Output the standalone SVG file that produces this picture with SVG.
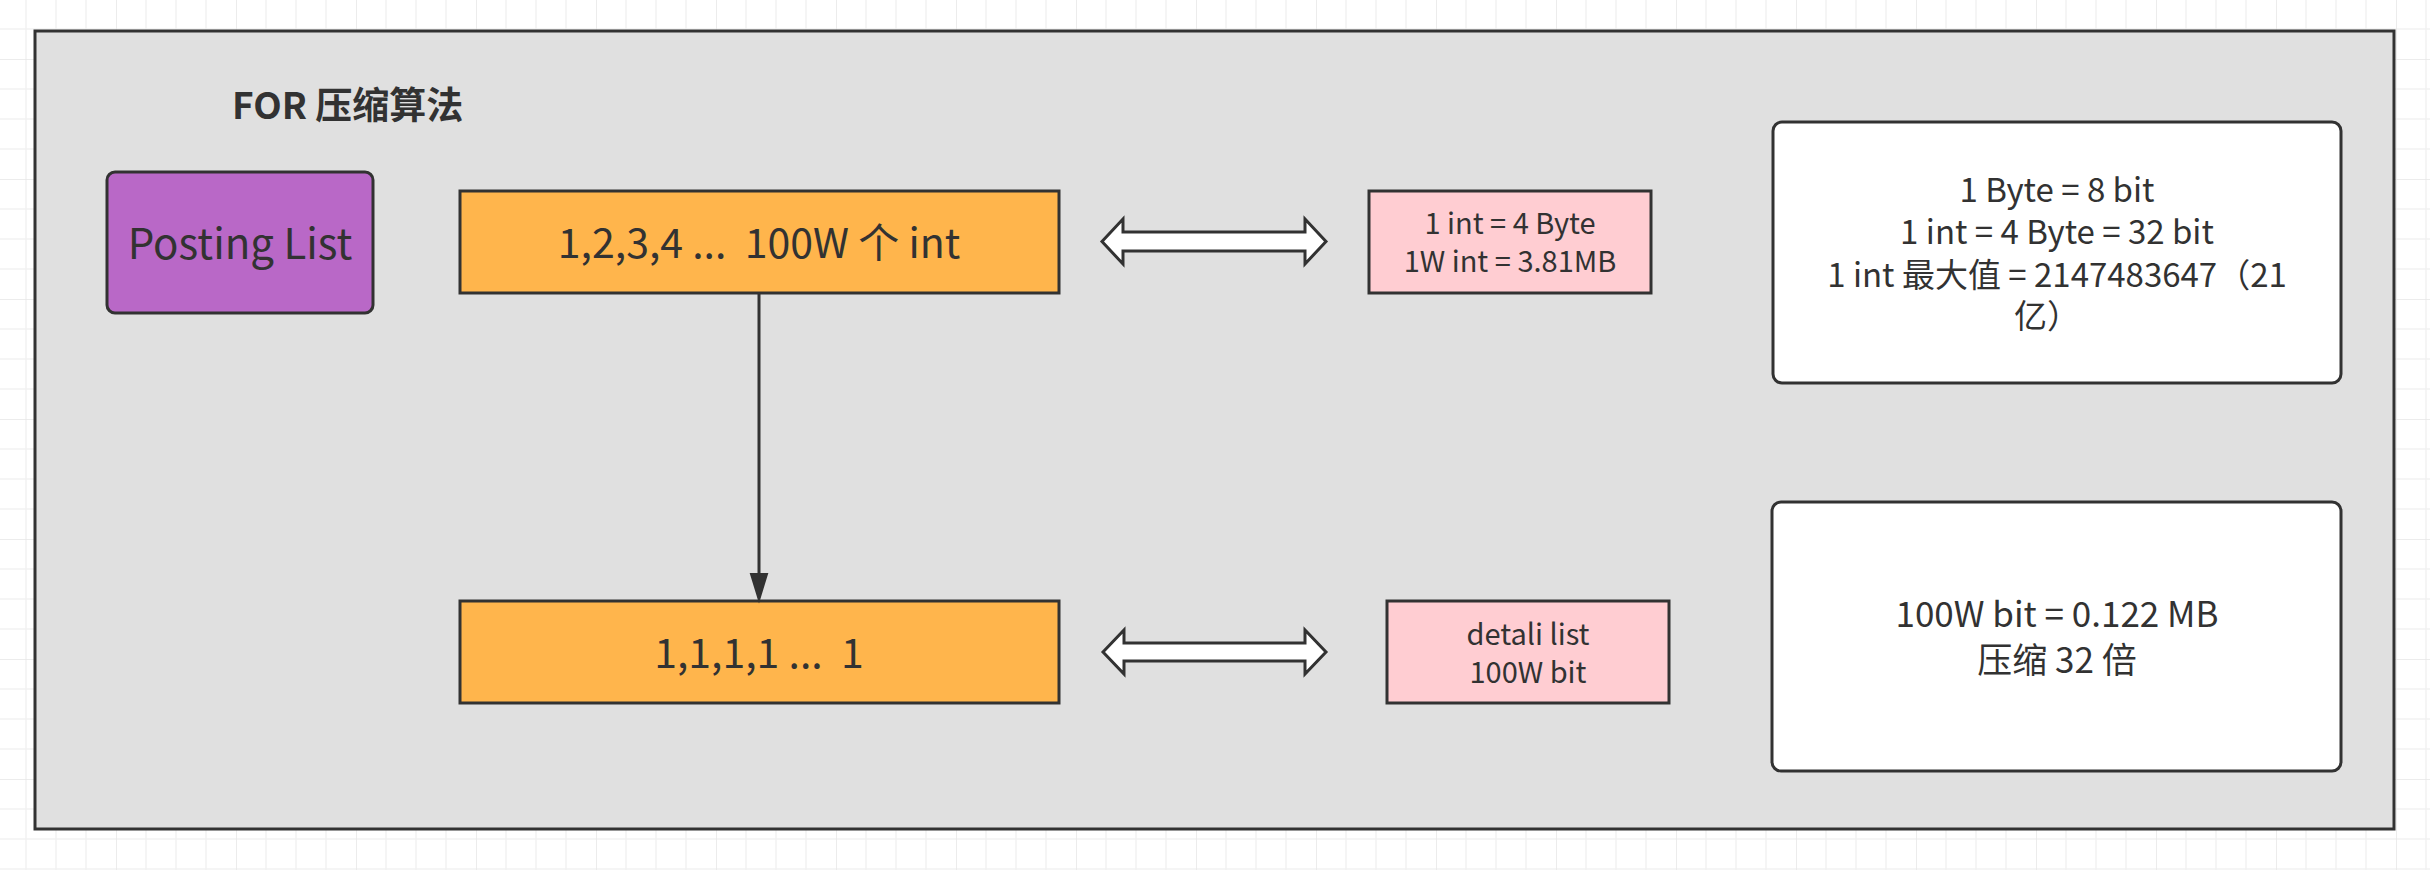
<svg xmlns="http://www.w3.org/2000/svg" width="2430" height="870" viewBox="0 0 2430 870">
<defs>
<pattern id="grid" patternUnits="userSpaceOnUse" x="116" y="59" width="120" height="120">
<path d="M30 0V120M60 0V120M90 0V120M0 30H120M0 60H120M0 90H120" stroke="#f2f2f2" stroke-width="1.5" fill="none"/>
<path d="M0 0V120M0 0H120" stroke="#e6e6e6" stroke-width="1.5" fill="none"/>
</pattern>
<style>
.t{font-family:"Noto Sans CJK SC","Noto Sans",sans-serif;fill:#323232;text-anchor:middle}
.box{stroke:#323232;stroke-width:3}
.dbl{fill:#ffffff;stroke:#323232;stroke-width:3;stroke-linejoin:miter}
</style>
</defs>
<rect x="0" y="0" width="2430" height="870" fill="#ffffff"/>
<rect x="0" y="0" width="2430" height="870" fill="url(#grid)"/>
<g id="container">
<rect x="35" y="31" width="2359" height="798" fill="#e0e0e0" class="box"/>
<text class="t" x="232" y="119" font-size="37" font-weight="bold" style="text-anchor:start">FOR 压缩算法</text>
</g>
<g id="posting-list">
<rect x="107" y="172" width="266" height="141" rx="8" fill="#b968c7" class="box"/>
<text class="t" x="240" y="259" font-size="42">Posting List</text>
</g>
<g id="ints">
<rect x="460" y="191" width="599" height="102" fill="#ffb54c" class="box"/>
<text class="t" x="759" y="258" font-size="41" xml:space="preserve">1,2,3,4 ...  100W 个 int</text>
</g>
<g id="bits">
<rect x="460" y="601" width="599" height="102" fill="#ffb54c" class="box"/>
<text class="t" x="759" y="668" font-size="41" xml:space="preserve">1,1,1,1 ...  1</text>
</g>
<g id="int-size">
<rect x="1369" y="191" width="282" height="102" fill="#ffcdd2" class="box"/>
<text class="t" x="1510" y="234" font-size="29">1 int = 4 Byte</text>
<text class="t" x="1510" y="272" font-size="29">1W int = 3.81MB</text>
</g>
<g id="bit-list">
<rect x="1387" y="601" width="282" height="102" fill="#ffcdd2" class="box"/>
<text class="t" x="1528" y="645" font-size="29">detali list</text>
<text class="t" x="1528" y="683" font-size="29">100W bit</text>
</g>
<g id="note-int">
<rect x="1773" y="122" width="568" height="261" rx="9" fill="#ffffff" class="box"/>
<text class="t" x="2057" y="202" font-size="33">1 Byte = 8 bit</text>
<text class="t" x="2057" y="244" font-size="33">1 int = 4 Byte = 32 bit</text>
<text class="t" x="2057" y="287" font-size="33">1 int 最大值 = 2147483647（21</text>
<text class="t" x="2047" y="328" font-size="33">亿）</text>
</g>
<g id="note-bit">
<rect x="1772" y="502" width="569" height="269" rx="9" fill="#ffffff" class="box"/>
<text class="t" x="2057" y="627" font-size="35">100W bit = 0.122 MB</text>
<text class="t" x="2057" y="673" font-size="35">压缩 32 倍</text>
</g>
<g id="connectors">
<line x1="759" y1="293" x2="759" y2="580" stroke="#323232" stroke-width="3"/>
<polygon points="751,574 767,574 759,600" fill="#323232" stroke="#323232" stroke-width="2" stroke-linejoin="miter"/>
<path class="dbl" d="M1102 241.5L1123 219V232H1305V219L1326 241.5L1305 264V251H1123V264Z"/>
<path class="dbl" d="M1103 652L1124 630V643H1305V630L1326 652L1305 674V661H1124V674Z"/>
</g>
</svg>
